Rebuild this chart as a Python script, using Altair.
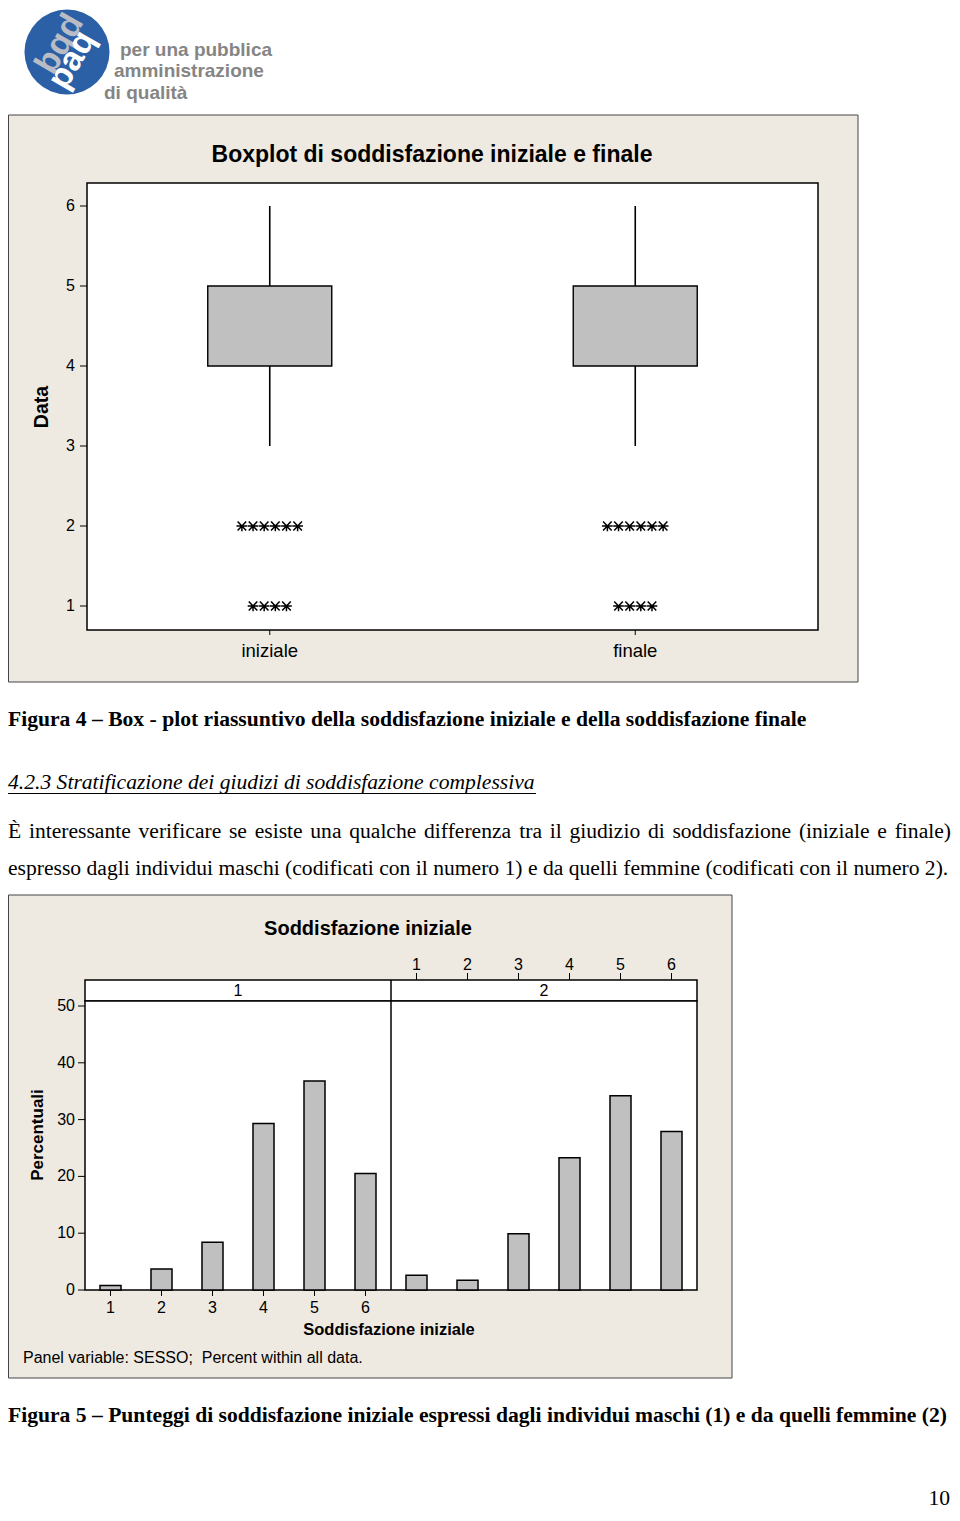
import altair as alt
import pandas as pd

# ---------------- data ----------------
groups = ["iniziale", "finale"]
group_pos = [1, 2]
q1 = [4, 4]
q3 = [5, 5]
whisk_lo = [3, 3]
whisk_hi = [6, 6]
outliers_iniziale = [2, 2, 2, 2, 2, 2, 1, 1, 1, 1]
outliers_finale = [2, 2, 2, 2, 2, 2, 1, 1, 1, 1]
box_ticks = [1, 2, 3, 4, 5, 6]

scores = [1, 2, 3, 4, 5, 6]
pct_maschi = [0.8, 3.7, 8.4, 29.3, 36.8, 20.5]
pct_femmine = [2.6, 1.7, 9.9, 23.3, 34.2, 27.9]
sesso_levels = [1, 2]
pct_ticks = [0, 10, 20, 30, 40, 50]

LOGO_LINES = ["per una pubblica", "amministrazione", "di qualità"]
TITLE_BOX = "Boxplot di soddisfazione iniziale e finale"
YTITLE_BOX = "Data"
CAPTION_4 = "Figura 4 – Box - plot riassuntivo della soddisfazione iniziale e della soddisfazione finale"
HEADING = "4.2.3 Stratificazione dei giudizi di soddisfazione complessiva"
PARA_1 = "È interessante verificare se esiste una qualche differenza tra il giudizio di soddisfazione (iniziale e finale)"
PARA_2 = "espresso dagli individui maschi (codificati con il numero 1) e da quelli femmine (codificati con il numero 2)."
TITLE_BAR = "Soddisfazione iniziale"
XTITLE_BAR = "Soddisfazione iniziale"
YTITLE_BAR = "Percentuali"
FOOTNOTE = "Panel variable: SESSO;\u00a0 Percent within all data."
CAPTION_5 = "Figura 5 – Punteggi di soddisfazione iniziale espressi dagli individui maschi (1) e da quelli femmine (2)"
PAGE_NO = "10"

SANS = "Liberation Sans"
SERIF = "Liberation Serif"
BEIGE = "#eeeae1"
GREY = "#c0c0c0"
DUMMY = pd.DataFrame({"k": [0]})

AST = "M-1,0L1,0M-0.8,-0.85L0.8,0.85M0.8,-0.85L-0.8,0.85M0,0L0,1"

# Times/Liberation Serif advance widths (1/1000 em), used to justify a line
TIMES_W = {" ": 250, "(": 333, ")": 333, "a": 444, "b": 500, "c": 444, "d": 500,
           "e": 444, "f": 333, "g": 500, "h": 500, "i": 278, "j": 278, "k": 500,
           "l": 278, "m": 778, "n": 500, "o": 500, "p": 500, "q": 500, "r": 333,
           "s": 389, "t": 278, "u": 500, "v": 500, "w": 722, "x": 500, "y": 500,
           "z": 444, "È": 611}


def serif_width(s, size):
    return sum(TIMES_W.get(c, 500) for c in s) * size / 1000.0


def txt(s, x, y, size, weight="normal", font=SANS, align="left", angle=None,
        color="black", style=None, baseline="middle"):
    kw = dict(align=align, baseline=baseline, fontSize=size, fontWeight=weight,
              font=font, color=color)
    if angle is not None:
        kw["angle"] = angle
    if style is not None:
        kw["fontStyle"] = style
    return alt.Chart(pd.DataFrame({"t": [s]})).mark_text(**kw).encode(
        x=alt.value(x), y=alt.value(y), text="t:N")


def justified(line, x0, x1, y, size, font):
    words = line.split(" ")
    widths = [serif_width(w, size) for w in words]
    gap = (x1 - x0 - sum(widths)) / (len(words) - 1)
    out, x = [], x0
    for i, (w, wd) in enumerate(zip(words, widths)):
        if i == len(words) - 1:
            out.append(txt(w, x1, y, size, font=font, align="right"))
        else:
            out.append(txt(w, x, y, size, font=font))
        x += wd + gap
    return out


def rect(x, x2, y, y2, fill, stroke, sw=1.0):
    return alt.Chart(DUMMY).mark_rect(fill=fill, stroke=stroke, strokeWidth=sw).encode(
        x=alt.value(x), x2=alt.value(x2), y=alt.value(y), y2=alt.value(y2))


def hline(x, x2, y, color="black", sw=1.0):
    return alt.Chart(DUMMY).mark_rule(color=color, strokeWidth=sw).encode(
        x=alt.value(x), x2=alt.value(x2), y=alt.value(y))


def vline(x, y, y2, color="black", sw=1.0):
    return alt.Chart(DUMMY).mark_rule(color=color, strokeWidth=sw).encode(
        x=alt.value(x), y=alt.value(y), y2=alt.value(y2))


# ---------------- logo ----------------
logo = [
    alt.Chart(DUMMY).mark_circle(size=7238, color="#2b60a7", opacity=1).encode(
        x=alt.value(59), y=alt.value(44)),
    txt("bqd", 52, 36, 34, weight="bold", color="#b9bcc4", angle=300, align="center"),
    txt("paq", 64, 52, 34, weight="bold", color="white", angle=300, align="center"),
    txt(LOGO_LINES[0], 112, 42, 19, weight="bold", color="#858585"),
    txt(LOGO_LINES[1], 106, 63, 19, weight="bold", color="#858585"),
    txt(LOGO_LINES[2], 96, 85, 19, weight="bold", color="#858585"),
]

# ---------------- boxplot ----------------
BX = alt.Scale(domain=[0.5, 2.5], range=[79, 810], nice=False, zero=False, padding=0)
BY = alt.Scale(domain=[0.7, 6.2875], range=[622, 175], nice=False, zero=False, padding=0)

box_df = pd.DataFrame({"pos": group_pos, "gruppo": groups, "q1": q1, "q3": q3,
                       "lo": whisk_lo, "hi": whisk_hi})
out_df = pd.DataFrame({
    "pos": [group_pos[0]] * len(outliers_iniziale) + [group_pos[1]] * len(outliers_finale),
    "value": outliers_iniziale + outliers_finale,
})
bt_df = pd.DataFrame({"v": box_ticks})

bxX = alt.X("pos:Q", scale=BX, axis=None)

box_layers = alt.layer(
    alt.Chart(box_df).mark_rule(color="black", strokeWidth=1.6).encode(
        x=bxX, y=alt.Y("lo:Q", scale=BY, axis=None), y2="q1:Q"),
    alt.Chart(box_df).mark_rule(color="black", strokeWidth=1.6).encode(
        x=bxX, y=alt.Y("q3:Q", scale=BY, axis=None), y2="hi:Q"),
    alt.Chart(box_df).mark_bar(size=124, color=GREY, stroke="black", strokeWidth=1.4).encode(
        x=bxX, y=alt.Y("q1:Q", scale=BY, axis=None), y2="q3:Q"),
    alt.Chart(out_df)
    .transform_window(r="row_number()", groupby=["pos", "value"])
    .transform_joinaggregate(n="count()", groupby=["pos", "value"])
    .transform_calculate(xo="datum.pos + (datum.r - (datum.n + 1) / 2) * 0.0305")
    .mark_point(shape=AST, size=115, filled=False, stroke="black", strokeWidth=1.5, opacity=1)
    .encode(x=alt.X("xo:Q", scale=BX, axis=None), y=alt.Y("value:Q", scale=BY, axis=None)),
    alt.Chart(bt_df).mark_text(align="right", baseline="middle", fontSize=16, font=SANS).encode(
        x=alt.value(67), y=alt.Y("v:Q", scale=BY, axis=None), text="v:Q"),
    alt.Chart(bt_df).mark_rule(color="black", strokeWidth=1).encode(
        x=alt.value(72), x2=alt.value(79), y=alt.Y("v:Q", scale=BY, axis=None)),
    alt.Chart(box_df).mark_text(baseline="middle", fontSize=18.5, font=SANS).encode(
        x=bxX, y=alt.value(643), text="gruppo:N"),
    alt.Chart(box_df).mark_rule(color="black", strokeWidth=1).encode(
        x=bxX, y=alt.value(622), y2=alt.value(627)),
)

box_deco = [
    rect(0.5, 850, 107, 674, BEIGE, "#444444", 1),
    rect(79, 810, 175, 622, "white", "black", 1.5),
    txt(TITLE_BOX, 424, 147, 23, weight="bold", align="center"),
    txt(YTITLE_BOX, 34, 399, 19.5, weight="bold", align="center", angle=270),
]

# ---------------- text block ----------------
SERIF_SIZE = 21.6
texts = [
    txt(CAPTION_4, 0, 712, SERIF_SIZE, weight="bold", font=SERIF),
    txt(HEADING, 0, 775, SERIF_SIZE, font=SERIF, style="italic"),
    hline(0, 528, 785.5, sw=1),
    *justified(PARA_1, 0, 943, 824, SERIF_SIZE, SERIF),
    txt(PARA_2, 0, 861, SERIF_SIZE, font=SERIF),
    txt(CAPTION_5, 0, 1408, SERIF_SIZE, weight="bold", font=SERIF),
    txt(PAGE_NO, 942, 1497, SERIF_SIZE, font=SERIF, align="right", baseline="alphabetic"),
]

# ---------------- bar chart ----------------
PX = alt.Scale(domain=[0.5, 12.5], range=[77, 689], nice=False, zero=False, padding=0)
PY = alt.Scale(domain=[0, 50], range=[1282, 998], nice=False, zero=True, padding=0)

bar_df = pd.DataFrame({
    "sesso": [sesso_levels[0]] * len(scores) + [sesso_levels[1]] * len(scores),
    "score": scores * 2,
    "pct": pct_maschi + pct_femmine,
})
strip_df = pd.DataFrame({"sesso": sesso_levels})
pt_df = pd.DataFrame({"v": pct_ticks})
NPAN = len(scores)

bar_base = alt.Chart(bar_df).transform_calculate(
    pos=f"datum.score + {NPAN} * (datum.sesso - 1)")
pX = alt.X("pos:Q", scale=PX, axis=None)

bar_layers = alt.layer(
    bar_base.mark_bar(size=21, color=GREY, stroke="black", strokeWidth=1.5).encode(
        x=pX, y=alt.Y("pct:Q", scale=PY, axis=None)),
    # bottom axis (panel 1)
    bar_base.transform_filter("datum.sesso == 1").mark_text(
        baseline="middle", fontSize=16, font=SANS).encode(
        x=pX, y=alt.value(1300), text="score:Q"),
    bar_base.transform_filter("datum.sesso == 1").mark_rule(color="black").encode(
        x=pX, y=alt.value(1282), y2=alt.value(1288)),
    # top axis (panel 2)
    bar_base.transform_filter("datum.sesso == 2").mark_text(
        baseline="middle", fontSize=16, font=SANS).encode(
        x=pX, y=alt.value(957), text="score:Q"),
    bar_base.transform_filter("datum.sesso == 2").mark_rule(color="black").encode(
        x=pX, y=alt.value(965), y2=alt.value(972)),
    # strip labels
    alt.Chart(strip_df).transform_calculate(
        c=f"{(NPAN + 1) / 2} + {NPAN} * (datum.sesso - 1)").mark_text(
        baseline="middle", fontSize=16, font=SANS).encode(
        x=alt.X("c:Q", scale=PX, axis=None), y=alt.value(983), text="sesso:N"),
    # y axis
    alt.Chart(pt_df).mark_text(align="right", baseline="middle", fontSize=16, font=SANS).encode(
        x=alt.value(67), y=alt.Y("v:Q", scale=PY, axis=None), text="v:Q"),
    alt.Chart(pt_df).mark_rule(color="black").encode(
        x=alt.value(70), x2=alt.value(77), y=alt.Y("v:Q", scale=PY, axis=None)),
)

bar_deco = [
    rect(0.5, 724, 887, 1370, BEIGE, "#444444", 1),
    txt(TITLE_BAR, 360, 921, 20, weight="bold", align="center"),
    rect(77, 689, 972, 993, "white", "black", 1.5),
    rect(77, 689, 993, 1282, "white", "black", 1.5),
    vline(383, 972, 1282, sw=1.5),
    txt(YTITLE_BAR, 30, 1127, 17, weight="bold", align="center", angle=270),
    txt(XTITLE_BAR, 381, 1322, 16.5, weight="bold", align="center"),
    txt(FOOTNOTE, 15, 1350, 16),
]

chart = alt.layer(
    *logo, *box_deco, box_layers, *texts, *bar_deco, bar_layers
).resolve_scale(x="independent", y="independent").properties(
    width=944, height=1505, padding=0,
    autosize=alt.AutoSizeParams(type="none"),
).configure_view(stroke=None)

chart.save("out.html", embed_options={"renderer": "svg", "actions": False})
